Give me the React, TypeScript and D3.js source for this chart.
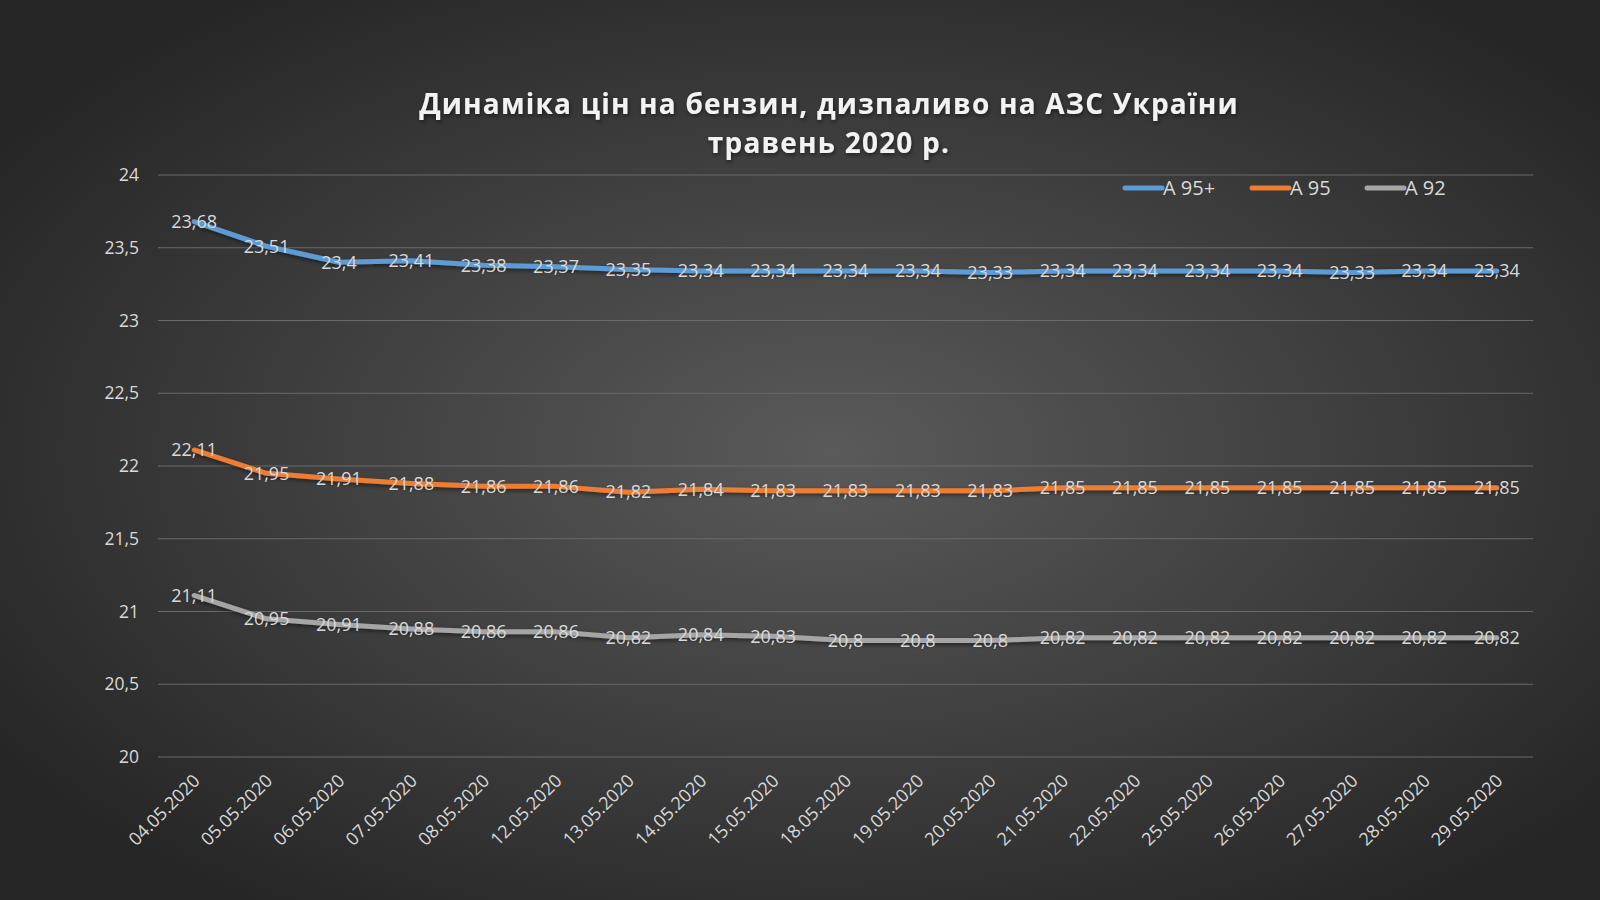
import { useRef, useEffect } from 'react'
import * as d3 from 'd3'

const dates = [
  '04.05.2020', '05.05.2020', '06.05.2020', '07.05.2020', '08.05.2020',
  '12.05.2020', '13.05.2020', '14.05.2020', '15.05.2020', '18.05.2020',
  '19.05.2020', '20.05.2020', '21.05.2020', '22.05.2020', '25.05.2020',
  '26.05.2020', '27.05.2020', '28.05.2020', '29.05.2020',
]
const a95plus = [23.68, 23.51, 23.4, 23.41, 23.38, 23.37, 23.35, 23.34, 23.34, 23.34, 23.34, 23.33, 23.34, 23.34, 23.34, 23.34, 23.33, 23.34, 23.34]
const a95 = [22.11, 21.95, 21.91, 21.88, 21.86, 21.86, 21.82, 21.84, 21.83, 21.83, 21.83, 21.83, 21.85, 21.85, 21.85, 21.85, 21.85, 21.85, 21.85]
const a92 = [21.11, 20.95, 20.91, 20.88, 20.86, 20.86, 20.82, 20.84, 20.83, 20.8, 20.8, 20.8, 20.82, 20.82, 20.82, 20.82, 20.82, 20.82, 20.82]
const seriesNames = ['А 95+', 'А 95', 'А 92']
const yTicks = [20, 20.5, 21, 21.5, 22, 22.5, 23, 23.5, 24]
const titleLines = ['Динаміка цін на бензин, дизпаливо на АЗС України', 'травень 2020 р.']

const App = () => {
  const ref = useRef<SVGSVGElement>(null)

  useEffect(() => {
    document.body.style.margin = '0'
    if (!ref.current) return
    const svg = d3.select(ref.current)
    svg.selectAll('*').remove()
    const width = 1600
    const height = 900
    const font = "'Open Sans', sans-serif"
    const textColor = '#d9d9d9'

    const defs = svg.append('defs')
    const grad = defs.append('radialGradient')
      .attr('id', 'bg')
      .attr('cx', '52%').attr('cy', '50%').attr('r', '62%')
    grad.append('stop').attr('offset', '0%').attr('stop-color', '#5a5a5a')
    grad.append('stop').attr('offset', '100%').attr('stop-color', '#262626')

    const shadow = defs.append('filter').attr('id', 'shadow')
      .attr('x', '-5%').attr('y', '-50%').attr('width', '110%').attr('height', '200%')
    shadow.append('feDropShadow')
      .attr('dx', 1).attr('dy', 2).attr('stdDeviation', 2)
      .attr('flood-color', '#000').attr('flood-opacity', 0.5)

    svg.append('rect')
      .attr('width', width).attr('height', height)
      .attr('fill', 'url(#bg)')

    const x = d3.scaleBand<string>().domain(dates).range([158, 1533]).padding(0)
    const y = d3.scaleLinear().domain([20, 24]).range([757, 175])
    const cx = (d: string) => (x(d) ?? 0) + x.bandwidth() / 2
    const locale = d3.formatLocale({ decimal: ',', thousands: ' ', grouping: [3], currency: ['', ''] })
    const fmt = locale.format('~g')

    // gridlines
    svg.append('g')
      .selectAll('line')
      .data(yTicks)
      .enter()
      .append('line')
      .attr('x1', 158).attr('x2', 1533)
      .attr('y1', d => y(d)).attr('y2', d => y(d))
      .attr('stroke', '#6a6a6a')
      .attr('stroke-width', 1)

    // y labels
    svg.append('g')
      .selectAll('text')
      .data(yTicks)
      .enter()
      .append('text')
      .attr('x', 139)
      .attr('y', d => y(d))
      .attr('dy', '0.35em')
      .attr('text-anchor', 'end')
      .attr('font-family', font)
      .attr('font-size', 17.5)
      .attr('fill', textColor)
      .text(d => fmt(d))

    // x labels
    svg.append('g')
      .selectAll('text')
      .data(dates)
      .enter()
      .append('text')
      .attr('transform', d => `translate(${cx(d) - 2},${773}) rotate(-45)`)
      .attr('text-anchor', 'end')
      .attr('dy', '0.7em')
      .attr('font-family', font)
      .attr('font-size', 18)
      .attr('fill', textColor)
      .text(d => d)

    const series = [
      { name: seriesNames[0], values: a95plus, color: '#5b9bd5' },
      { name: seriesNames[1], values: a95, color: '#ed7d31' },
      { name: seriesNames[2], values: a92, color: '#a5a5a5' },
    ]

    const line = d3.line<number>()
      .x((_, i) => cx(dates[i]))
      .y(d => y(d))

    series.forEach(s => {
      svg.append('path')
        .datum(s.values)
        .attr('d', line)
        .attr('fill', 'none')
        .attr('stroke', s.color)
        .attr('stroke-width', 5)
        .attr('stroke-linejoin', 'round')
        .attr('stroke-linecap', 'round')
        .attr('filter', 'url(#shadow)')
    })

    series.forEach(s => {
      svg.append('g')
        .selectAll('text')
        .data(s.values)
        .enter()
        .append('text')
        .attr('x', (_, i) => cx(dates[i]))
        .attr('y', d => y(d))
        .attr('dy', '0.35em')
        .attr('text-anchor', 'middle')
        .attr('font-family', font)
        .attr('font-size', 18)
        .attr('fill', textColor)
        .text(d => fmt(d))
    })

    // legend
    const legendX = [1125, 1252, 1367]
    const legend = svg.append('g')
      .selectAll('g')
      .data(series)
      .enter()
      .append('g')
      .attr('transform', (_, i) => `translate(${legendX[i]},188)`)
    legend.append('line')
      .attr('x1', 0).attr('x2', 37)
      .attr('stroke', d => d.color)
      .attr('stroke-width', 5)
      .attr('stroke-linecap', 'round')
    legend.append('text')
      .attr('x', 38)
      .attr('dy', '0.35em')
      .attr('font-family', font)
      .attr('font-size', 20)
      .attr('fill', textColor)
      .text(d => d.name)

    // title
    svg.append('g')
      .selectAll('text')
      .data(titleLines)
      .enter()
      .append('text')
      .attr('x', 829)
      .attr('y', (_, i) => 114 + i * 39)
      .attr('text-anchor', 'middle')
      .attr('font-family', font)
      .attr('font-weight', 'bold')
      .attr('font-size', 28)
      .attr('letter-spacing', 1.2)
      .attr('fill', '#f2f2f2')
      .attr('filter', 'url(#shadow)')
      .text(d => d)
  }, [])

  return <svg ref={ref} width={1600} height={900} style={{ display: 'block' }} />
}

export default App
